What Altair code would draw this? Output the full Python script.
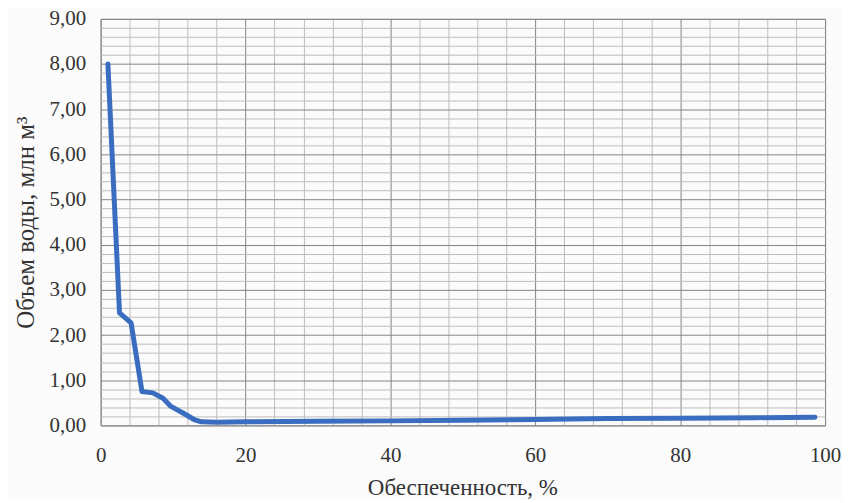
import altair as alt
import pandas as pd

# Обеспеченность, %
x_vals = [1.0, 2.6, 4.2, 5.7, 7.2, 8.6, 9.7, 11.3, 12.9, 13.9, 16.0, 20.0, 30.0, 40.0, 50.0, 60.0, 70.0, 80.0, 90.0, 98.6]
# Объем воды, млн м3
y_vals = [8.00, 2.49, 2.27, 0.75, 0.72, 0.60, 0.42, 0.28, 0.13, 0.08, 0.07, 0.08, 0.09, 0.10, 0.115, 0.13, 0.15, 0.16, 0.17, 0.18]

x_ticks = list(range(0, 101, 4))
y_ticks = [round(i * 0.2, 1) for i in range(46)]

df = pd.DataFrame({"x": x_vals, "y": y_vals})

serif = "Liberation Serif"

chart = alt.Chart(df).mark_line(color="#3A6DBF", strokeWidth=5, strokeCap="round", strokeJoin="round").encode(
    x=alt.X("x:Q", scale=alt.Scale(domain=[0, 100], nice=False, zero=False),
            axis=alt.Axis(values=x_ticks, title="Обеспеченность, %",
                          labelExpr="datum.value % 20 == 0 ? format(datum.value, 'd') : ''",
                          ticks=False, domain=False, labelPadding=19, labelFlush=False,
                          gridColor={"condition": {"test": "datum.value % 20 == 0", "value": "#858585"}, "value": "#bdbdbd"},
                          gridWidth=1,
                          titleX=363, titleY=62, titleBaseline="middle", titleFontWeight="normal",
                          titleFont=serif, titleFontSize=23, titleColor="#333333",
                          labelFont=serif, labelFontSize=21, labelColor="#333333")),
    y=alt.Y("y:Q", scale=alt.Scale(domain=[0, 9], nice=False),
            axis=alt.Axis(values=y_ticks, title="Объем  воды, млн м³",
                          labelExpr="round(datum.value * 5) % 5 == 0 ? replace(format(datum.value, '.2f'), '.', ',') : ''",
                          ticks=False, domain=False, labelPadding=15, labelFlush=False,
                          gridColor={"condition": {"test": "round(datum.value * 5) % 5 == 0", "value": "#858585"}, "value": "#bdbdbd"},
                          gridWidth=1,
                          titleX=-75, titleY=204, titleAngle=-90, titleBaseline="middle", titleAlign="center",
                          titleFontWeight="normal",
                          titleFont=serif, titleFontSize=25, titleColor="#333333",
                          labelFont=serif, labelFontSize=21, labelColor="#333333")),
).properties(
    width=727, height=408,
    autosize=alt.AutoSizeParams(type="none"),
    padding={"left": 93, "top": 10, "right": 17, "bottom": 74},
    background="#fbfbfb",
).configure_view(stroke="#8c8c8c", strokeWidth=1)

chart.save("out.html", embed_options={"renderer": "svg", "actions": False})
